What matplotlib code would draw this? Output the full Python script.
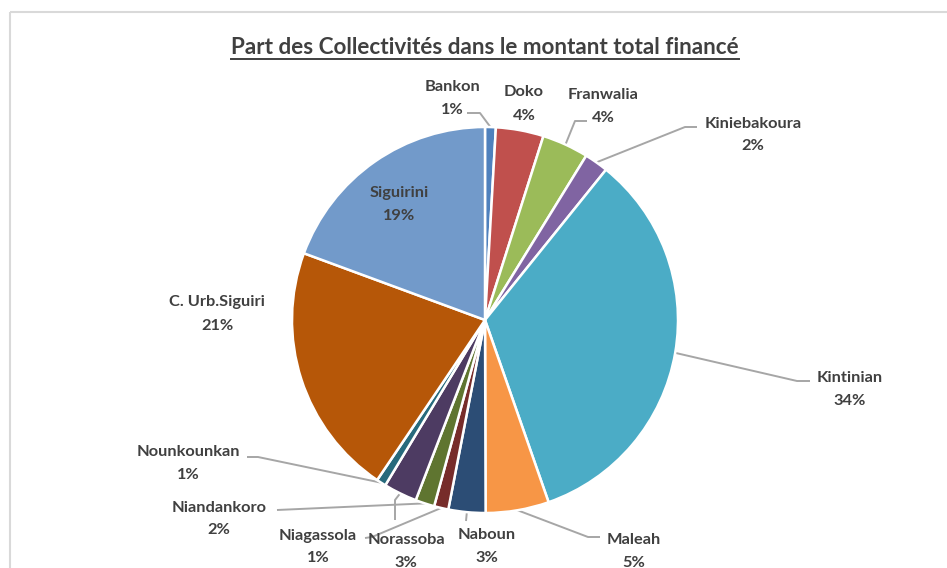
import numpy as np
import matplotlib
matplotlib.use("Agg")
import matplotlib.pyplot as plt
from matplotlib.patches import Rectangle

plt.rcParams['font.family'] = ['Lato', 'DejaVu Sans']

# data (share in %, clockwise from 12 o'clock)
communes = ['Bankon', 'Doko', 'Franwalia', 'Kiniebakoura', 'Kintinian', 'Maleah',
            'Naboun', 'Niagassola', 'Niandankoro', 'Norassoba', 'Nounkounkan',
            'C. Urb.Siguiri', 'Siguirini']
shares = [0.9, 4.0, 3.9, 2.0, 33.9, 5.3, 3.1, 1.2, 1.6, 2.8, 0.8, 21.2, 19.4]
colors = ['#4F81BD', '#C0504D', '#9BBB59', '#8064A2', '#4BACC6', '#F79646',
          '#2C4D75', '#772C2A', '#5F7530', '#4D3B62', '#276A7C', '#B65708', '#729ACA']

W, H = 947, 568
TXT = '#404040'
LINE = '#A6A6A6'
FS = 11.8

fig = plt.figure(figsize=(W / 100, H / 100), dpi=100)
ax = fig.add_axes([0, 0, 1, 1])

# chart frame (cropped at right and bottom)
ax.add_patch(Rectangle((10, 12), W + 20, H + 20, fill=False, ec='#D9D9D9', lw=1.5))

cx, cy, r = 485, 320, 193
# y axis is inverted below, so counterclock=True ends up clockwise on screen
wedges, _ = ax.pie(shares, colors=colors, startangle=-90, counterclock=True,
                   center=(cx, cy), radius=r, frame=True,
                   wedgeprops=dict(edgecolor='white', linewidth=1.8))
ax.set_xlim(0, W)
ax.set_ylim(H, 0)  # pixel coordinates, y downwards
ax.set_aspect('equal')
ax.axis('off')

pct = [round(v / sum(shares) * 100) for v in shares]

# label layout: (x, y line1, y line2), leader path points before the slice edge
layout = {
    'Bankon': ((452, 87, 110), [(467, 113), (480, 113)]),
    'Doko': ((524, 92, 116), None),
    'Franwalia': ((603, 95, 118), [(587, 121), (575, 121)]),
    'Kiniebakoura': ((753, 124, 146), [(697, 127), (685, 127)]),
    'Kintinian': ((850, 378, 401), [(810, 381), (797, 381)]),
    'Maleah': ((634, 540, 563), [(600, 537), (588, 537)]),
    'Naboun': ((487, 535, 558), [(466, 521)]),
    'Niagassola': ((318, 536, 558), [(365, 538), (372, 537)]),
    'Niandankoro': ((219, 508, 530), [(277, 510)]),
    'Norassoba': ((406, 540, 563), [(395, 520), (395, 500)]),
    'Nounkounkan': ((188, 452, 475), [(247, 457), (258, 457)]),
    'C. Urb.Siguiri': ((217, 302, 326), None),
    'Siguirini': ((399, 193, 216), None),
}

for name, w, p in zip(communes, wedges, pct):
    (tx, y1, y2), path = layout[name]
    ax.text(tx, y1, name, ha='center', va='center', fontsize=FS,
            fontweight='bold', color=TXT)
    ax.text(tx, y2, f'{p}%', ha='center', va='center', fontsize=FS,
            fontweight='bold', color=TXT)
    if path:
        mid = np.deg2rad((w.theta1 + w.theta2) / 2)
        ex, ey = cx + r * np.cos(mid), cy + r * np.sin(mid)
        xs = [pt[0] for pt in path] + [ex]
        ys = [pt[1] for pt in path] + [ey]
        ax.plot(xs, ys, color=LINE, lw=1.4, solid_capstyle='butt', zorder=0.5)

title = ax.text(485, 47, 'Part des Collectivités dans le montant total financé',
                ha='center', va='center', fontsize=16.2, fontweight='bold', color=TXT)
fig.canvas.draw()
bb = title.get_window_extent().transformed(ax.transData.inverted())
yl = max(bb.y0, bb.y1) + 1
ax.plot([bb.x0, bb.x1], [yl, yl], color=TXT, lw=1.4)

fig.savefig('out.png', dpi=100, facecolor='white')
